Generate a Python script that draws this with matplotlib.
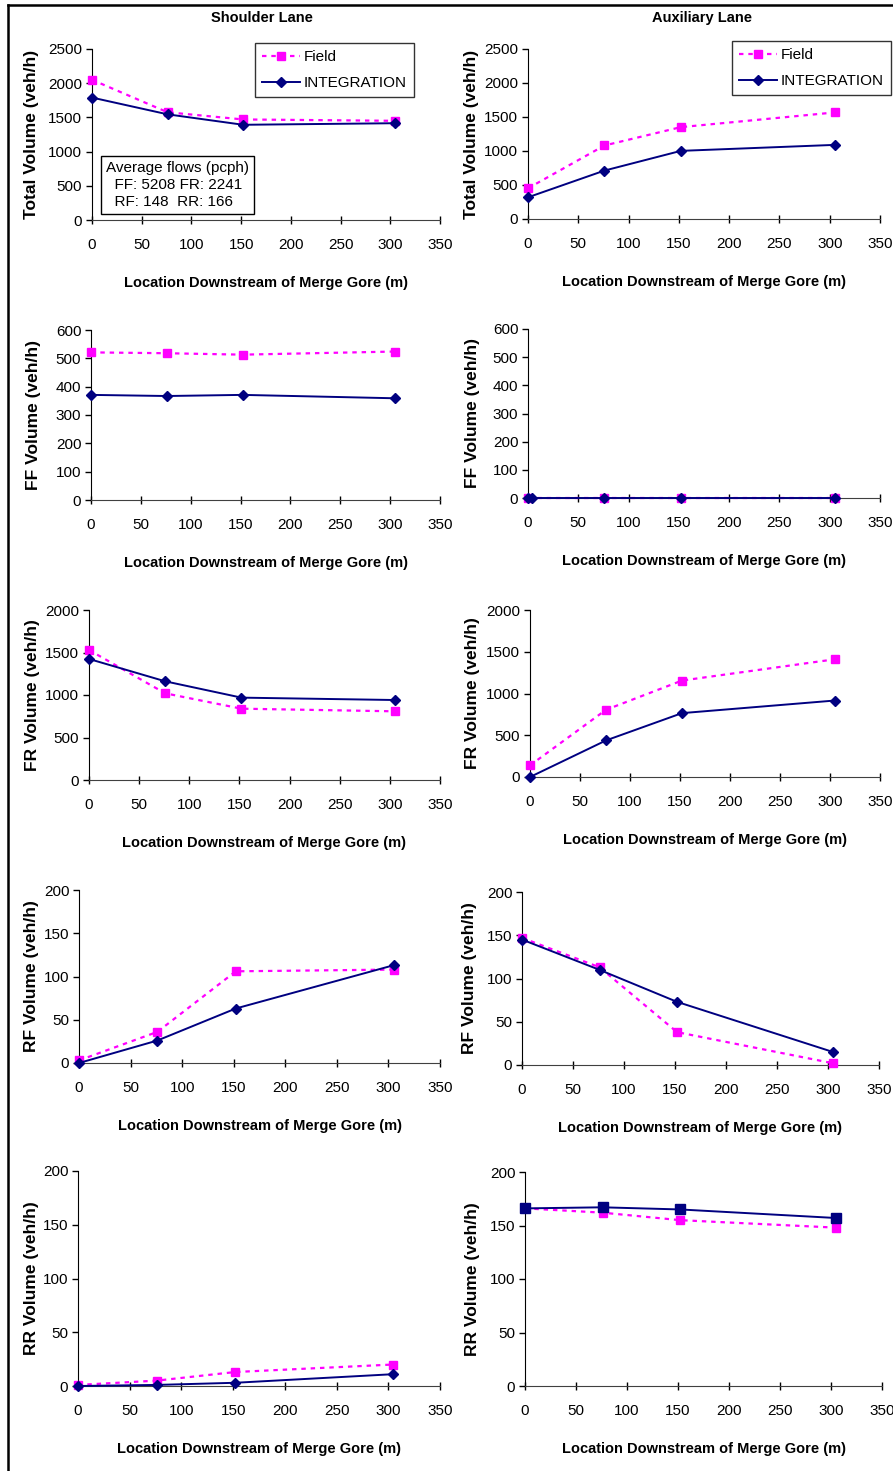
import numpy as np
import matplotlib.pyplot as plt
from matplotlib.lines import Line2D

plt.rcParams['font.family'] = ['Liberation Sans', 'DejaVu Sans']

# distances downstream of the merge gore (m)
x_loc = [0, 76, 152, 305]
x_ff_aux_integ = [0, 4, 76, 152, 305]

# Shoulder lane
tot_sh_field = [2050, 1575, 1470, 1450]
tot_sh_integ = [1790, 1545, 1392, 1415]
ff_sh_field = [521, 518, 513, 524]
ff_sh_integ = [371, 367, 371, 359]
fr_sh_field = [1529, 1020, 839, 808]
fr_sh_integ = [1424, 1161, 969, 941]
rf_sh_field = [3, 36, 106, 108]
rf_sh_integ = [0, 26, 63, 113]
rr_sh_field = [1, 5, 13, 20]
rr_sh_integ = [0, 1, 3, 11]

# Auxiliary lane
tot_aux_field = [452, 1081, 1351, 1567]
tot_aux_integ = [319, 712, 1002, 1090]
ff_aux_field = [0, 0, 0, 0]
ff_aux_integ = [0, 0, 0, 0, 0]
fr_aux_field = [139, 805, 1155, 1410]
fr_aux_integ = [0, 438, 765, 916]
rf_aux_field = [147, 113, 38, 2]
rf_aux_integ = [145, 110, 73, 15]
rr_aux_field = [166, 162, 155, 148]
rr_aux_integ = [166, 167, 165, 157]

W, H = 893, 1471
fig = plt.figure(figsize=(W / 100, H / 100), dpi=100)

FS = 11
MAG = '#FF00FF'
NAVY = '#000080'


def px_axes(x0, ytop, x1, ybot):
    return fig.add_axes([x0 / W, 1 - ybot / H, (x1 - x0) / W, (ybot - ytop) / H])


def panel(box, ymax, ystep, ylabel, fx, fy, ix, iy, lab_x, imarker='D'):
    x0, ytop, x1, ybot = box
    ax = px_axes(*box)
    ax.plot(fx, fy, color=MAG, ls=(0, (2, 2.2)), lw=1.6, marker='s', ms=6,
            mec=MAG, mfc=MAG, label='Field', clip_on=False, zorder=3)
    ims = 5 if imarker == 'D' else 6.5
    ax.plot(ix, iy, color=NAVY, ls='-', lw=1.4, marker=imarker, ms=ims,
            mec=NAVY, mfc=NAVY, label='INTEGRATION', clip_on=False, zorder=4)
    ax.set_xlim(0, 350)
    ax.set_ylim(0, ymax)
    ax.set_xticks(np.arange(0, 351, 50))
    ax.set_yticks(np.arange(0, ymax + 1, ystep))
    for s in ['top', 'right']:
        ax.spines[s].set_visible(False)
    ax.spines['left'].set_color('black')
    ax.spines['bottom'].set_color('#404040')
    ax.tick_params(axis='x', direction='inout', length=6, width=1,
                   pad=10, labelsize=FS)
    ax.tick_params(axis='y', direction='out', length=4, width=1,
                   pad=3, labelsize=FS)
    ax.set_xlabel('Location Downstream of Merge Gore (m)', fontsize=10.5,
                  fontweight='bold')
    ax.xaxis.set_label_coords(0.5, -56 / (ybot - ytop))
    ax.set_ylabel(ylabel, fontsize=12.5, fontweight='bold')
    ax.yaxis.set_label_coords((lab_x - x0) / (x1 - x0), 0.5)
    return ax


# left column (shoulder lane)
ax1 = panel((92, 49, 440, 220), 2500, 500, 'Total Volume (veh/h)',
            x_loc, tot_sh_field, x_loc, tot_sh_integ, 39)
panel((91, 330, 440, 500), 600, 100, 'FF Volume (veh/h)',
      x_loc, ff_sh_field, x_loc, ff_sh_integ, 41)
panel((89, 610, 440, 780), 2000, 500, 'FR Volume (veh/h)',
      x_loc, fr_sh_field, x_loc, fr_sh_integ, 40)
panel((79, 890, 440, 1063), 200, 50, 'RF Volume (veh/h)',
      x_loc, rf_sh_field, x_loc, rf_sh_integ, 39)
panel((78, 1171, 440, 1386), 200, 50, 'RR Volume (veh/h)',
      x_loc, rr_sh_field, x_loc, rr_sh_integ, 39)

# right column (auxiliary lane)
ax2 = panel((528, 49, 880, 219), 2500, 500, 'Total Volume (veh/h)',
            x_loc, tot_aux_field, x_loc, tot_aux_integ, 479)
panel((528, 329, 880, 498), 600, 100, 'FF Volume (veh/h)',
      x_loc, ff_aux_field, x_ff_aux_integ, ff_aux_integ, 480)
panel((530, 610, 880, 777), 2000, 500, 'FR Volume (veh/h)',
      x_loc, fr_aux_field, x_loc, fr_aux_integ, 480)
panel((522, 892, 879, 1065), 200, 50, 'RF Volume (veh/h)',
      x_loc, rf_aux_field, x_loc, rf_aux_integ, 477)
panel((525, 1172, 882, 1386), 200, 50, 'RR Volume (veh/h)',
      x_loc, rr_aux_field, x_loc, rr_aux_integ, 480, imarker='s')

# legends
for ax, (lx, ly) in [(ax1, (255, 43)), (ax2, (732, 41))]:
    leg = ax.legend(loc='upper left', bbox_to_anchor=(lx / W, 1 - ly / H),
                    bbox_transform=fig.transFigure, borderaxespad=0,
                    fontsize=FS, frameon=True, fancybox=False,
                    edgecolor='black', handlelength=2.5, handletextpad=0.25,
                    labelspacing=0.8, borderpad=0.45)
    leg.get_frame().set_linewidth(1.0)

# average flows box
fig.text(106 / W, 1 - 185 / H,
         'Average flows (pcph)\n  FF: 5208 FR: 2241\n  RF: 148  RR: 166',
         fontsize=FS, ha='left', va='center', linespacing=1.3,
         bbox=dict(boxstyle='square,pad=0.3', fc='white', ec='black', lw=1.0))

# column titles
fig.text(262 / W, 1 - 18 / H, 'Shoulder Lane', fontsize=10.5,
         fontweight='bold', ha='center', va='center')
fig.text(702 / W, 1 - 18 / H, 'Auxiliary Lane', fontsize=10.5,
         fontweight='bold', ha='center', va='center')

# outer frame (left and top edges visible)
fig.add_artist(Line2D([8 / W, 8 / W], [0, 1 - 5 / H], color='black', lw=1.8,
                      transform=fig.transFigure))
fig.add_artist(Line2D([8 / W, 1], [1 - 5 / H, 1 - 5 / H], color='black',
                      lw=1.8, transform=fig.transFigure))

fig.savefig('out.png', dpi=100)
